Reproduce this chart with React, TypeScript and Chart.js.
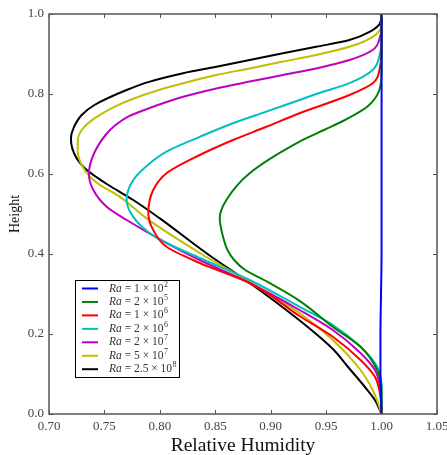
import React, { useEffect, useRef } from 'react';
import { Chart, registerables } from 'chart.js';

Chart.register(...registerables);

// ---- Data (height vs relative humidity) ----
const H_RA_1E2 = [0, 0.05, 0.1, 0.2, 0.3, 0.4, 0.6, 0.8, 1.0];
const RH_RA_1E2 = [1.0, 0.9995, 0.999, 0.999, 0.9995, 1.0, 1.0, 1.0, 1.0];

const H_RA_2E5 = [0, 0.06, 0.11, 0.168, 0.218, 0.283, 0.335, 0.36, 0.385, 0.41, 0.443, 0.49, 0.535, 0.602, 0.681, 0.71, 0.735, 0.768, 0.81, 0.86, 1.0];
const RH_RA_2E5 = [1.0, 1.0, 0.996, 0.981, 0.956, 0.926, 0.894, 0.877, 0.867, 0.861, 0.857, 0.854, 0.86, 0.881, 0.926, 0.948, 0.967, 0.987, 0.998, 1.0, 1.0];

const H_RA_1E6 = [0, 0.05, 0.093, 0.135, 0.193, 0.245, 0.3275, 0.3775, 0.418, 0.46, 0.502, 0.56, 0.602, 0.6475, 0.685, 0.718, 0.752, 0.7975, 0.827, 0.868, 0.92, 1.0];
const RH_RA_1E6 = [1.0, 0.9986, 0.994, 0.981, 0.956, 0.926, 0.881, 0.836, 0.806, 0.794, 0.7896, 0.794, 0.806, 0.836, 0.866, 0.896, 0.926, 0.971, 0.992, 0.9986, 1.0, 1.0];

const H_RA_2E6 = [0, 0.0675, 0.118, 0.168, 0.2225, 0.268, 0.335, 0.39, 0.4275, 0.452, 0.493, 0.535, 0.585, 0.627, 0.656, 0.693, 0.727, 0.756, 0.785, 0.8, 0.827, 0.86, 0.902, 0.935, 1.0];
const RH_RA_2E6 = [1.0, 1.0, 0.996, 0.981, 0.956, 0.926, 0.881, 0.836, 0.806, 0.791, 0.776, 0.77, 0.776, 0.791, 0.806, 0.836, 0.866, 0.896, 0.926, 0.941, 0.971, 0.992, 0.9986, 1.0, 1.0];

const H_RA_2E7 = [0, 0.0675, 0.11, 0.1525, 0.21, 0.26, 0.3275, 0.385, 0.4275, 0.485, 0.518, 0.56, 0.6, 0.6475, 0.6975, 0.7225, 0.743, 0.76, 0.793, 0.814, 0.831, 0.8475, 0.864, 0.885, 0.91, 0.943, 0.97, 1.0];
const RH_RA_2E7 = [1.0, 0.9986, 0.994, 0.981, 0.956, 0.926, 0.881, 0.836, 0.806, 0.77, 0.752, 0.74, 0.736, 0.74, 0.751, 0.76, 0.771, 0.786, 0.821, 0.851, 0.881, 0.911, 0.941, 0.971, 0.992, 0.9986, 1.0, 1.0];

const H_RA_5E7 = [0, 0.018, 0.06, 0.11, 0.185, 0.2525, 0.33, 0.4025, 0.489, 0.543, 0.5725, 0.593, 0.6225, 0.656, 0.681, 0.71, 0.739, 0.768, 0.785, 0.81, 0.827, 0.8475, 0.864, 0.881, 0.8975, 0.918, 0.943, 0.9725, 1.0];
const RH_RA_5E7 = [1.0, 0.998, 0.992, 0.981, 0.956, 0.926, 0.881, 0.836, 0.788, 0.764, 0.746, 0.737, 0.7295, 0.7259, 0.7259, 0.7295, 0.741, 0.759, 0.773, 0.799, 0.821, 0.851, 0.881, 0.911, 0.941, 0.971, 0.992, 1.0, 1.0];

const H_RA_25E8 = [0, 0.035, 0.0675, 0.12, 0.16, 0.2, 0.26, 0.3275, 0.4, 0.489, 0.535, 0.5725, 0.589, 0.614, 0.639, 0.664, 0.689, 0.714, 0.7475, 0.7725, 0.81, 0.831, 0.852, 0.868, 0.885, 0.902, 0.918, 0.935, 0.956, 0.977, 1.0];
const RH_RA_25E8 = [1.0, 0.994, 0.985, 0.969, 0.957, 0.941, 0.914, 0.881, 0.843, 0.8, 0.776, 0.7535, 0.7445, 0.7325, 0.725, 0.721, 0.7198, 0.722, 0.7295, 0.741, 0.77, 0.791, 0.821, 0.851, 0.881, 0.911, 0.941, 0.971, 0.9896, 0.9986, 1.0];

const SERIES_H = [H_RA_1E2, H_RA_2E5, H_RA_1E6, H_RA_2E6, H_RA_2E7, H_RA_5E7, H_RA_25E8];
const SERIES_RH = [RH_RA_1E2, RH_RA_2E5, RH_RA_1E6, RH_RA_2E6, RH_RA_2E7, RH_RA_5E7, RH_RA_25E8];
const RA_MANTISSA = ['1', '2', '1', '2', '2', '5', '2.5'];
const RA_EXPONENT = ['2', '5', '6', '6', '7', '7', '8'];
const SERIES_COLORS = ['#0000ff', '#008000', '#ff0000', '#00bfbf', '#bf00bf', '#bfbf00', '#000000'];

const X_MIN = 0.7;
const X_MAX = 1.05;
const X_STEP = 0.05;
const Y_MIN = 0;
const Y_MAX = 1;
const Y_STEP = 0.2;
const X_TITLE = 'Relative Humidity';
const Y_TITLE = 'Height';

const FONT = '"Liberation Serif", "DejaVu Serif", serif';

const framePlugin = {
  id: 'frame',
  afterDatasetsDraw(chart: any) {
    const { ctx, chartArea: a, scales } = chart;
    ctx.save();
    ctx.strokeStyle = '#555';
    ctx.lineWidth = 1.5;
    ctx.strokeRect(a.left, a.top, a.right - a.left, a.bottom - a.top);
    ctx.lineWidth = 1;
    const L = 4;
    ctx.beginPath();
    scales.x.ticks.forEach((t: any) => {
      const px = Math.round(scales.x.getPixelForValue(t.value)) + 0.5;
      ctx.moveTo(px, a.bottom);
      ctx.lineTo(px, a.bottom - L);
      ctx.moveTo(px, a.top);
      ctx.lineTo(px, a.top + L);
    });
    scales.y.ticks.forEach((t: any) => {
      const py = Math.round(scales.y.getPixelForValue(t.value)) + 0.5;
      ctx.moveTo(a.left, py);
      ctx.lineTo(a.left + L, py);
      ctx.moveTo(a.right, py);
      ctx.lineTo(a.right - L, py);
    });
    ctx.stroke();
    ctx.restore();
  },
};

const legendPlugin = {
  id: 'mplLegend',
  afterDraw(chart: any) {
    const { ctx, chartArea: a } = chart;
    const bx = a.left + 26;
    const by = a.bottom - 134;
    const bw = 104;
    const bh = 97;
    ctx.save();
    ctx.fillStyle = '#ffffff';
    ctx.fillRect(bx, by, bw, bh);
    ctx.strokeStyle = '#000';
    ctx.lineWidth = 1;
    ctx.strokeRect(bx + 0.5, by + 0.5, bw, bh);
    chart.data.datasets.forEach((ds: any, i: number) => {
      const cy = by + 8.5 + i * 13.45;
      ctx.strokeStyle = ds.borderColor;
      ctx.lineWidth = 2;
      ctx.beginPath();
      ctx.moveTo(bx + 7, cy);
      ctx.lineTo(bx + 23, cy);
      ctx.stroke();
      ctx.fillStyle = '#333';
      ctx.textBaseline = 'middle';
      let x = bx + 34;
      ctx.font = `italic 11.5px ${FONT}`;
      ctx.fillText('Ra', x, cy);
      x += ctx.measureText('Ra').width;
      ctx.font = `11.5px ${FONT}`;
      const rest = ` = ${RA_MANTISSA[i]} × 10`;
      ctx.fillText(rest, x, cy);
      x += ctx.measureText(rest).width;
      ctx.font = `8px ${FONT}`;
      ctx.fillText(RA_EXPONENT[i], x + 0.5, cy - 4);
    });
    ctx.restore();
  },
};

export default function App() {
  const canvasRef = useRef<HTMLCanvasElement | null>(null);

  useEffect(() => {
    document.body.style.margin = '0';
    const canvas = canvasRef.current;
    if (!canvas) return;
    const datasets = SERIES_H.map((hs, i) => ({
      label: `Ra = ${RA_MANTISSA[i]} × 10^${RA_EXPONENT[i]}`,
      data: hs.map((h, j) => ({ x: SERIES_RH[i][j], y: h })),
      borderColor: SERIES_COLORS[i],
      backgroundColor: SERIES_COLORS[i],
      borderWidth: 2,
      pointRadius: 0,
      cubicInterpolationMode: 'monotone' as const,
      fill: false,
    }));

    const chart = new Chart(canvas, {
      type: 'line',
      data: { datasets },
      options: {
        indexAxis: 'y',
        animation: false,
        responsive: true,
        maintainAspectRatio: false,
        layout: { padding: { left: 0, right: 10, top: 14, bottom: 0 } },
        plugins: {
          legend: { display: false },
          tooltip: { enabled: false },
        },
        scales: {
          x: {
            type: 'linear',
            min: X_MIN,
            max: X_MAX,
            grid: { display: false, drawTicks: false },
            border: { display: false },
            ticks: {
              stepSize: X_STEP,
              padding: 5,
              color: '#444',
              font: { family: FONT, size: 13 },
              maxRotation: 0,
              autoSkip: false,
              callback: (v: any) => Number(v).toFixed(2),
            },
            title: {
              display: true,
              text: X_TITLE,
              color: '#111',
              font: { family: FONT, size: 19.5 },
              padding: { top: 0, bottom: -3 },
            },
            afterFit: (s: any) => {
              s.height = 41;
              s.paddingLeft = 0;
              s.paddingRight = 0;
            },
          },
          y: {
            type: 'linear',
            min: Y_MIN,
            max: Y_MAX,
            grid: { display: false, drawTicks: false },
            border: { display: false },
            ticks: {
              stepSize: Y_STEP,
              padding: 5,
              color: '#444',
              font: { family: FONT, size: 13 },
              autoSkip: false,
              callback: (v: any) => Number(v).toFixed(1),
            },
            title: {
              display: true,
              text: Y_TITLE,
              color: '#111',
              font: { family: FONT, size: 14 },
              padding: { top: 7, bottom: 0 },
            },
            afterFit: (s: any) => {
              s.width = 49;
              s.paddingTop = 0;
              s.paddingBottom = 0;
            },
          },
        },
      },
      plugins: [framePlugin, legendPlugin],
    });
    return () => chart.destroy();
  }, []);

  return (
    <div style={{ position: 'absolute', left: 0, top: 0, width: 447, height: 455, background: '#fff' }}>
      <canvas ref={canvasRef} />
    </div>
  );
}
